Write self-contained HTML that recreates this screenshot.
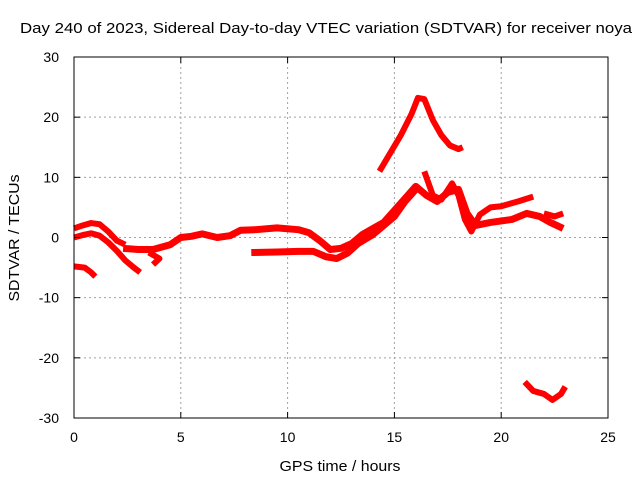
<!DOCTYPE html>
<html><head><meta charset="utf-8"><style>
body{margin:0;background:#fff}
svg{display:block;font-family:"Liberation Sans",sans-serif}
</style></head><body>
<svg id="chart" width="640" height="480">
<text x="326" y="33" font-size="15" text-anchor="middle" textLength="612" lengthAdjust="spacingAndGlyphs">Day 240 of 2023, Sidereal Day-to-day VTEC variation (SDTVAR) for receiver noya</text>
<g id="grid"></g><g id="series"></g><g id="axes"></g>
<text x="340" y="471" font-size="15" text-anchor="middle" textLength="121" lengthAdjust="spacingAndGlyphs">GPS time / hours</text>
<text transform="translate(19,238) rotate(-90)" font-size="15" text-anchor="middle" textLength="127" lengthAdjust="spacingAndGlyphs">SDTVAR / TECUs</text>
</svg>
<script>
const xTicks=[0,5,10,15,20,25];
const yTicks=[-30,-20,-10,0,10,20,30];
const track1=[[0,1.5],[0.4,2],[0.8,2.4],[1.2,2.2],[1.6,1],[2,-0.5],[2.4,-1.2]];
const track2=[[0,0],[0.4,0.4],[0.8,0.7],[1.2,0.3],[1.6,-0.8],[2,-2.2],[2.4,-3.8],[2.8,-5],[3.1,-5.8]];
const track3=[[0,-4.8],[0.5,-5],[0.8,-5.8],[1,-6.5]];
const track4=[[2.3,-1.8],[3,-2],[3.7,-2],[4.5,-1.2],[5,0],[5.5,0.2],[6,0.6],[6.7,0],[7.3,0.3],[7.8,1.2],[8.5,1.3],[9.5,1.6],[10.5,1.3],[11,0.8],[11.5,-0.5],[12,-2],[12.5,-1.8],[13,-1],[13.5,0.5],[14,1.5],[14.5,2.5],[15,4.5],[15.5,6.5],[16,8.5],[16.5,7],[17,6],[17.5,7.5],[18,8],[18.4,4],[18.8,2],[19.5,2.5],[20.5,3],[21.2,4],[21.8,3.5],[22.3,2.5],[22.9,1.5]];
const track5=[[8.3,-2.5],[9.5,-2.4],[10.5,-2.3],[11.2,-2.3],[11.8,-3.2],[12.3,-3.5],[12.8,-2.6],[13.3,-1],[14,0.5],[14.5,2],[15,3.5],[15.5,6],[16,8]];
const track6=[[14.3,11],[14.8,14],[15.3,17],[15.8,20.5],[16.1,23.2],[16.4,23],[16.8,19.5],[17.2,17],[17.6,15.3],[18,14.7],[18.2,15]];
const track7=[[16.4,11],[16.8,7],[17.2,6.3],[17.7,9],[18,7],[18.3,3],[18.6,1],[19,3.8],[19.5,5],[20,5.2],[20.8,6],[21.5,6.8]];
const track8=[[22,4],[22.5,3.5],[22.9,4]];
const track9=[[21.1,-24],[21.5,-25.5],[22,-26],[22.4,-27],[22.8,-26],[23,-24.8]];
const track10=[[3.5,-2.5],[4,-3.5],[3.7,-4.5]];
const tracks=[track1,track2,track3,track4,track5,track6,track7,track8,track9,track10];
const NS="http://www.w3.org/2000/svg";
const L=74,R=608,T=57,B=418;
const xs=h=>L+h/25*(R-L);
const ys=v=>B-(v+30)/60*(B-T);
function mk(tag,attrs,parent){const e=document.createElementNS(NS,tag);for(const k in attrs)e.setAttribute(k,attrs[k]);parent.appendChild(e);return e;}
const grid=document.getElementById('grid'),axes=document.getElementById('axes'),ser=document.getElementById('series');
xTicks.forEach(t=>{
 if(t>0&&t<25){const g=mk('line',{x1:xs(t),x2:xs(t),y1:T,y2:B,stroke:'#a0a0a0','stroke-dasharray':'2,3'},grid);
 
 }
 const tx=mk('text',{x:xs(t),y:B+24,'font-size':14,'text-anchor':'middle'},axes);tx.textContent=t;
 
 
 mk('line',{x1:xs(t),x2:xs(t),y1:B,y2:B-6,stroke:'#000'},axes);
 mk('line',{x1:xs(t),x2:xs(t),y1:T,y2:T+6,stroke:'#000'},axes);
});
yTicks.forEach(t=>{
 if(t>-30&&t<30){const g=mk('line',{x1:L,x2:R,y1:ys(t),y2:ys(t),stroke:'#a0a0a0','stroke-dasharray':'2,3'},grid);
 
 }
 const tx=mk('text',{x:L-15,y:ys(t)+5,'font-size':14,'text-anchor':'end'},axes);tx.textContent=t;
 
 
 mk('line',{x1:L,x2:L+6,y1:ys(t),y2:ys(t),stroke:'#000'},axes);
 mk('line',{x1:R,x2:R-6,y1:ys(t),y2:ys(t),stroke:'#000'},axes);
});
const fr=mk('rect',{x:L,y:T,width:R-L,height:B-T,fill:'none',stroke:'#000'},axes);


tracks.forEach((tr,i)=>{
 const p=mk('polyline',{points:tr.map(d=>xs(d[0])+','+ys(d[1])).join(' '),fill:'none',stroke:'#ff0000','stroke-width':i===3||i===4?7:6,'stroke-linejoin':'round'},ser);
 
 
});
</script>
</body></html>
